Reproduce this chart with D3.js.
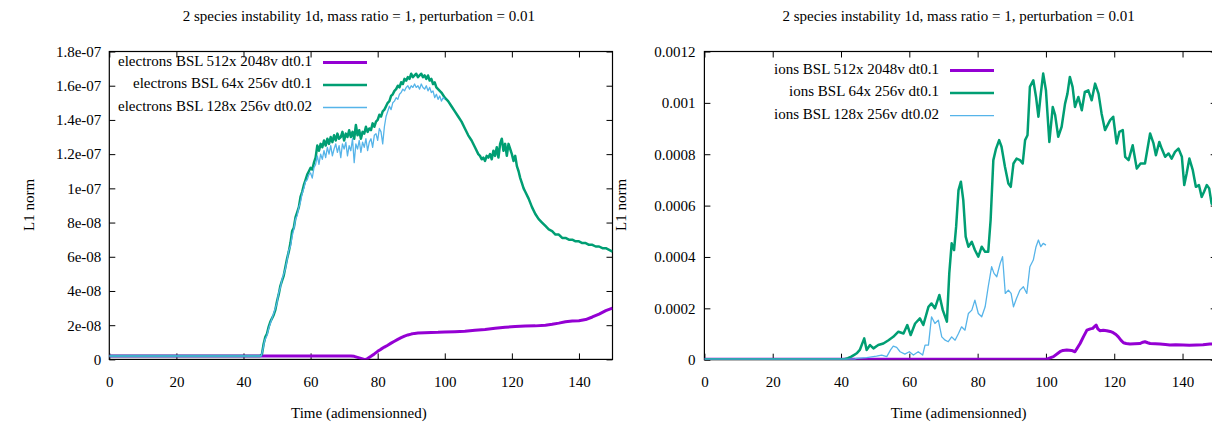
<!DOCTYPE html>
<html><head><meta charset="utf-8">
<script src="https://cdn.jsdelivr.net/npm/d3@7"></script>
<style>
body{margin:0;background:#fff}
svg{display:block}
text{font-family:"Liberation Serif","Times New Roman",serif;fill:#000}
</style>
</head><body><svg id="c" width="1212" height="426"></svg>
<script>
// ---------- text ----------
const chartTitle = "2 species instability 1d, mass ratio = 1, perturbation = 0.01";
const xLabel = "Time (adimensionned)";
const yLabel = "L1 norm";
const leftLegend = ["electrons BSL 512x 2048v dt0.1", "electrons BSL 64x 256v dt0.1", "electrons BSL 128x 256v dt0.02"];
const rightLegend = ["ions BSL 512x 2048v dt0.1", "ions BSL 64x 256v dt0.1", "ions BSL 128x 256v dt0.02"];

// ---------- ticks ----------
const xTicks = [0, 20, 40, 60, 80, 100, 120, 140];
const leftYTicks = [0, 2e-8, 4e-8, 6e-8, 8e-8, 1e-7, 1.2e-7, 1.4e-7, 1.6e-7, 1.8e-7];
const leftYLabels = ["0", "2e-08", "4e-08", "6e-08", "8e-08", "1e-07", "1.2e-07", "1.4e-07", "1.6e-07", "1.8e-07"];
const rightYTicks = [0, 0.0002, 0.0004, 0.0006, 0.0008, 0.001, 0.0012];
const rightYLabels = ["0", "0.0002", "0.0004", "0.0006", "0.0008", "0.001", "0.0012"];

// ---------- data : electrons (values in units of 1e-8) ----------
const elecUnit = 1e-8;
const elec512 = [[0,0.2],[72,0.2],[73,0.18],[74,0.12],[75,0.06],[76,0.0],[76.5,0.0],[77,0.05],[78,0.18],[79,0.32],[80,0.47],[81,0.6],[82,0.72],[83,0.83],[84,0.95],[85,1.06],[86,1.17],[87,1.27],[88,1.36],[89,1.43],[90,1.48],[91,1.52],[92,1.54],[94,1.56],[96,1.57],[98,1.58],[100,1.6],[103,1.62],[106,1.65],[109,1.7],[112,1.75],[115,1.82],[118,1.88],[121,1.92],[124,1.95],[127,1.96],[130,2.0],[132,2.05],[134,2.12],[136,2.2],[138,2.24],[140,2.26],[142,2.33],[144,2.48],[146,2.65],[148,2.85],[150,3.0]];
const elec64 = [[0,0.2],[45,0.2],[45.5,0.3],[46,0.9],[46.5,1.3],[47,1.5],[47.5,1.9],[48,2.2],[48.5,2.4],[49,2.6],[49.5,2.9],[50,3.4],[50.5,3.8],[51,4.3],[51.5,4.6],[52,4.9],[52.5,5.4],[53,5.9],[53.5,6.3],[54,6.8],[54.5,7.5],[55,7.7],[55.5,8.3],[56,8.6],[56.5,8.9],[57,9.5],[57.5,9.8],[58,10.2],[58.5,10.5],[59,10.8],[59.5,11.0],[60,11.2],[60.5,11.1],[61,11.5],[61.5,11.8],[62,12.5],[62.5,12.2],[63,12.6],[63.5,12.4],[64,12.8],[64.5,12.5],[65,12.9],[65.5,12.6],[66,13.0],[66.5,12.7],[67,13.1],[67.5,12.8],[68,13.2],[68.5,12.9],[69,13.0],[69.5,13.3],[70,12.8],[70.5,13.2],[71,13.0],[71.5,13.4],[72,13.0],[72.5,13.3],[73,12.9],[73.5,13.7],[74,13.1],[74.5,13.4],[75,12.9],[75.5,13.3],[76,13.2],[76.5,13.6],[77,13.3],[77.5,13.5],[78,13.4],[78.5,13.8],[79,13.6],[79.5,13.9],[80,14.0],[80.5,14.3],[81,14.2],[81.5,14.5],[82,14.6],[82.5,14.8],[83,15.0],[83.5,15.1],[84,15.4],[84.5,15.5],[85,15.7],[85.5,15.8],[86,16.0],[86.5,15.9],[87,16.2],[87.5,16.1],[88,16.4],[88.5,16.3],[89,16.5],[89.5,16.4],[90,16.7],[90.5,16.5],[91,16.6],[91.5,16.7],[92,16.5],[92.5,16.6],[93,16.7],[93.5,16.5],[94,16.6],[94.5,16.4],[95,16.6],[95.5,16.3],[96,16.4],[96.5,16.1],[97,16.2],[97.5,15.9],[98,15.8],[98.5,15.7],[99,15.6],[100,15.3],[101,15.1],[102,14.8],[103,14.5],[104,14.2],[105,13.9],[106,13.5],[107,13.1],[108,12.8],[109,12.4],[110,12.0],[110.5,11.9],[111,11.7],[111.5,11.8],[112,11.6],[112.5,11.9],[113,11.8],[113.5,12.0],[114,11.7],[114.5,12.2],[115,11.9],[115.5,12.4],[116,11.8],[116.5,12.6],[117,12.9],[117.5,12.2],[118,12.6],[118.5,11.9],[119,12.6],[119.5,12.3],[120,12.0],[120.5,11.6],[121,11.9],[121.5,11.3],[122,11.0],[122.5,10.6],[123,10.3],[123.5,10.0],[124,9.8],[125,9.4],[126,8.9],[127,8.5],[128,8.2],[129,8.0],[130,7.8],[131,7.6],[132,7.5],[133,7.3],[134,7.3],[135,7.1],[136,7.1],[137,7.0],[138,7.0],[139,6.9],[140,6.9],[141,6.8],[142,6.8],[143,6.7],[144,6.7],[145,6.6],[146,6.6],[147,6.5],[148,6.5],[149,6.4],[150,6.3]];
const elec128 = [[0,0.2],[45.3,0.2],[45.8,0.6],[46.3,1.1],[47,1.4],[47.5,1.8],[48,2.1],[48.5,2.4],[49,2.7],[49.5,3.0],[50,3.3],[50.5,3.9],[51,4.2],[51.5,4.7],[52,5.0],[52.5,5.3],[53,5.8],[53.5,6.4],[54,6.6],[54.5,7.2],[55,7.6],[55.5,8.2],[56,8.4],[56.5,8.9],[57,9.2],[57.5,9.7],[58,10.0],[58.5,10.4],[59,10.5],[59.5,10.8],[60,10.9],[60.5,10.6],[61,11.2],[61.5,11.4],[62,11.9],[62.5,11.4],[63,12.0],[63.5,11.7],[64,12.2],[64.5,11.8],[65,12.4],[65.5,12.0],[66,12.5],[66.5,11.9],[67,12.3],[67.5,12.6],[68,12.1],[68.5,12.5],[69,11.8],[69.5,12.6],[70,12.3],[70.5,12.7],[71,11.9],[71.5,12.5],[72,12.2],[72.5,12.9],[73,11.5],[73.5,12.6],[74,12.3],[74.5,12.8],[75,12.1],[75.5,12.7],[76,12.4],[76.5,12.9],[77,12.2],[77.5,12.7],[78,12.9],[78.5,12.4],[79,13.1],[79.5,13.2],[80,12.8],[80.5,13.5],[81,13.3],[81.5,12.6],[82,13.6],[82.5,14.2],[83,14.5],[83.5,14.8],[84,14.6],[84.5,15.0],[85,15.1],[85.5,15.3],[86,15.2],[86.5,15.5],[87,15.6],[87.5,15.8],[88,15.7],[88.5,15.9],[89,16.0],[89.5,15.8],[90,16.0],[90.5,15.9],[91,16.1],[91.5,15.9],[92,16.0],[92.5,15.8],[93,16.1],[93.5,15.9],[94,15.8],[94.5,16.0],[95,15.7],[95.5,15.9],[96,15.6],[96.5,15.7],[97,15.3],[97.5,15.5],[98,15.2],[98.5,15.4],[99,15.1],[99.5,15.3],[100,15.2]];

// ---------- data : ions (values in units of 1e-4) ----------
const ionUnit = 1e-4;
const ion512 = [[0,0.02],[100.2,0.02],[102.2,0.12],[104.1,0.31],[105,0.36],[106.1,0.38],[107.5,0.36],[108.5,0.31],[110,0.63],[111,0.9],[112,1.15],[113,1.2],[113.7,1.22],[114.3,1.3],[114.7,1.35],[115.2,1.2],[115.8,1.13],[116.8,1.15],[117.8,1.13],[118.8,1.1],[119.7,1.05],[120.5,0.98],[121.2,0.89],[122,0.75],[122.7,0.66],[123.5,0.63],[124.6,0.61],[126,0.62],[127.5,0.63],[128.4,0.68],[129,0.7],[129.8,0.66],[130.5,0.63],[132,0.62],[133.4,0.61],[135,0.59],[136.3,0.57],[138,0.58],[140.2,0.57],[142,0.56],[144.1,0.57],[146,0.58],[148,0.61],[150,0.62]];
const ion64 = [[0,0.02],[41,0.02],[42,0.06],[43,0.12],[44,0.2],[44.6,0.25],[45.5,0.38],[46.8,0.83],[47.5,0.38],[48.5,0.57],[49.5,0.44],[50.9,0.57],[52.4,0.63],[53.9,0.76],[55.3,0.89],[56.8,1.09],[58.3,1.02],[59.4,1.35],[60.4,0.96],[61.7,1.41],[63.1,1.61],[64.1,1.35],[65.6,2.06],[66.5,2.19],[67.5,2.0],[68.8,2.52],[69.8,1.93],[71.0,1.48],[71.7,3.36],[72.4,4.53],[73.1,4.27],[73.7,5.17],[74.4,6.6],[75.1,6.93],[75.8,6.21],[76.5,4.79],[77.3,4.4],[78.3,4.59],[79.2,4.27],[80.2,4.01],[81.2,4.4],[82.2,4.2],[83.1,4.2],[83.8,5.43],[84.6,7.77],[85.4,8.22],[86.3,8.55],[87.0,8.29],[88.0,7.51],[89.0,6.86],[89.7,6.73],[90.5,7.64],[91.4,7.83],[92.4,7.77],[93.2,7.64],[93.9,8.55],[94.6,8.74],[95.3,10.62],[96.3,10.88],[97.1,10.23],[97.8,9.46],[98.5,10.36],[99.2,11.14],[100.0,10.49],[101.0,8.48],[102.0,9.84],[102.7,9.52],[103.6,8.68],[104.6,9.07],[105.6,9.97],[106.3,10.36],[107.0,11.01],[107.8,10.62],[108.5,9.84],[109.5,10.23],[110.5,9.71],[111.4,10.43],[112.4,10.49],[113.4,10.1],[114.4,10.75],[115.4,10.36],[116.3,9.58],[117.3,8.94],[118.3,9.2],[118.8,9.33],[119.7,9.46],[120.7,8.42],[121.5,8.87],[122.5,8.94],[123.2,7.9],[124.2,7.77],[125.4,8.35],[126.6,7.44],[127.7,7.64],[129.0,7.64],[130.5,8.81],[131.5,8.42],[132.2,7.96],[133.2,8.48],[133.9,8.22],[134.9,7.9],[135.9,8.03],[136.8,7.83],[137.8,8.09],[138.8,8.22],[139.8,7.9],[140.5,6.8],[141.2,7.25],[142.0,7.83],[143.0,7.38],[143.9,6.73],[144.8,6.8],[145.6,6.34],[146.3,6.54],[147.1,6.8],[147.8,6.67],[148.5,6.08],[150,5.9]];
const ion128 = [[0,0.02],[44,0.02],[44.6,0.05],[47.5,0.08],[50.4,0.14],[51.9,0.18],[53.4,0.12],[54.5,0.38],[55.3,0.53],[56.3,0.48],[57.3,0.31],[58.7,0.22],[60,0.31],[61.2,0.18],[62.6,0.31],[63.9,0.18],[64.6,0.57],[65.6,0.57],[66.5,1.67],[67.5,1.41],[68.5,1.54],[69.5,0.89],[70.5,0.76],[71.4,0.7],[72.4,0.89],[73.4,0.76],[74.4,1.02],[75.3,1.28],[76.3,1.15],[77.3,1.8],[78.3,1.93],[79.2,2.32],[80.2,1.8],[81.2,1.67],[82.2,2.06],[83.1,2.84],[84.1,3.62],[84.8,3.36],[85.6,3.23],[86.6,3.75],[87.3,4.01],[88.1,2.58],[89,2.71],[89.8,2.58],[90.5,2.06],[91.4,2.39],[92.4,2.71],[93.4,2.84],[94.4,2.58],[95.3,3.62],[96.3,3.88],[97.1,4.4],[97.8,4.66],[98.5,4.4],[99.2,4.53],[100,4.46]];

// ---------- style ----------
const colors = ["#9400d3", "#009e73", "#56b4e9"];
const widths = [3, 2.5, 1.3];

const svg = d3.select("#c");

function panel(cfg) {
  const x = d3.scaleLinear().domain([0, 150]).range([cfg.x0, cfg.x1]);
  const y = d3.scaleLinear().domain([0, cfg.yMax]).range([cfg.bottom, cfg.top]);
  const g = svg.append("g");
  const clipId = "clip" + cfg.id;
  svg.append("clipPath").attr("id", clipId).append("rect")
    .attr("x", cfg.x0).attr("y", cfg.top).attr("width", cfg.x1 - cfg.x0).attr("height", cfg.bottom - cfg.top);

  // title
  g.append("text").attr("x", (cfg.x0 + cfg.x1) / 2 - 2).attr("y", 18).attr("text-anchor", "middle")
    .attr("dominant-baseline", "middle").style("font-size", "15px").text(chartTitle);

  // axes
  const fmtY = d => cfg.yLabels[cfg.yTicks.indexOf(d)];
  const ax = g.append("g").attr("transform", `translate(0,${cfg.bottom})`)
    .call(d3.axisBottom(x).tickValues(xTicks).tickFormat(d3.format("d")).tickSize(-6).tickPadding(17));
  const axTop = g.append("g").attr("transform", `translate(0,${cfg.top})`)
    .call(d3.axisTop(x).tickValues(xTicks).tickFormat("").tickSize(-6));
  const ay = g.append("g").attr("transform", `translate(${cfg.x0},0)`)
    .call(d3.axisLeft(y).tickValues(cfg.yTicks).tickFormat(fmtY).tickSize(-6).tickPadding(cfg.yPad));
  const ayR = g.append("g").attr("transform", `translate(${cfg.x1},0)`)
    .call(d3.axisRight(y).tickValues(cfg.yTicks).tickFormat("").tickSize(-6));
  [ax, axTop, ay, ayR].forEach(a => {
    a.select(".domain").remove();
    a.selectAll("line").attr("stroke", "#000").attr("stroke-width", 1);
    a.selectAll("text").style("font-size", "15px").style("font-family", '"Liberation Serif","Times New Roman",serif');
  });
  ax.selectAll("text").attr("dy", "0.35em").attr("y", 22.5);

  // border
  g.append("rect").attr("x", cfg.x0).attr("y", cfg.top).attr("width", cfg.x1 - cfg.x0).attr("height", cfg.bottom - cfg.top)
    .attr("fill", "none").attr("stroke", "#000").attr("stroke-width", 1.2);

  // axis labels
  g.append("text").attr("x", (cfg.x0 + cfg.x1) / 2 - 2).attr("y", 415).attr("text-anchor", "middle")
    .attr("dominant-baseline", "middle").style("font-size", "15px").text(xLabel);
  g.append("text").attr("transform", `translate(${cfg.yLabX},205) rotate(-90)`).attr("text-anchor", "middle")
    .attr("dominant-baseline", "middle").style("font-size", "15px").text(yLabel);

  // series
  const line = d3.line().x(d => x(d[0])).y(d => y(d[1] * cfg.unit));
  const lg = g.append("g").attr("clip-path", `url(#${clipId})`);
  cfg.series.forEach((s, i) => {
    lg.append("path").datum(s).attr("d", line).attr("fill", "none")
      .attr("stroke", colors[i]).attr("stroke-width", widths[i])
      .attr("stroke-linejoin", "round").attr("stroke-linecap", "butt");
  });

  // legend
  cfg.legend.forEach((t, i) => {
    const yy = cfg.legY[i];
    g.append("text").attr("x", cfg.legTextX).attr("y", yy).attr("text-anchor", "end")
      .attr("dominant-baseline", "middle").style("font-size", "15px").text(t);
    g.append("line").attr("x1", cfg.legTextX + 11).attr("x2", cfg.legTextX + 55).attr("y1", yy).attr("y2", yy)
      .attr("stroke", colors[i]).attr("stroke-width", widths[i]);
  });
}

panel({id: "L", x0: 109.3, x1: 612.5, top: 51.5, bottom: 359.4, yMax: 1.8e-7, yTicks: leftYTicks, yLabels: leftYLabels,
  yPad: 8, yLabX: 31, unit: elecUnit, series: [elec512, elec64, elec128], legend: leftLegend,
  legTextX: 312, legY: [62.5, 85, 107.5]});
panel({id: "R", x0: 704.4, x1: 1216.7, top: 51.5, bottom: 359.7, yMax: 0.0012, yTicks: rightYTicks, yLabels: rightYLabels,
  yPad: 9, yLabX: 623, unit: ionUnit, series: [ion512, ion64, ion128], legend: rightLegend,
  legTextX: 939, legY: [70.5, 93, 115.7]});
</script>
</body></html>
